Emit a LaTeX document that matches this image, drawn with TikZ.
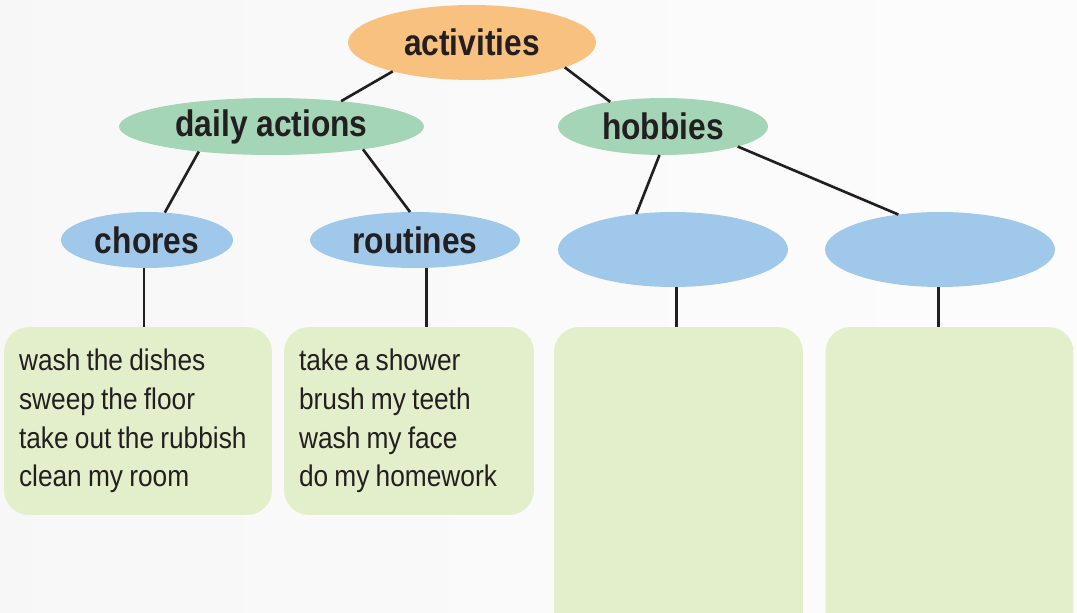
\documentclass[tikz,border=0pt]{standalone}
\usepackage{fontspec}
\setmainfont{Liberation Sans}[FakeStretch=0.86]
\newfontfamily\listfont{Liberation Sans}[FakeStretch=0.88, WordSpace=0.85]
\usepackage{tikz}
\usetikzlibrary{shapes.geometric}

\definecolor{actorange}{HTML}{F8C17F}
\definecolor{catgreen}{HTML}{A3D5B6}
\definecolor{subblue}{HTML}{A0C8EA}
\definecolor{listgreen}{HTML}{E3EFCA}
\definecolor{inkdark}{HTML}{231F20}

\tikzset{
  bubble/.style={ellipse, inner sep=0pt, outer sep=0pt, text=inkdark,
    font=\fontsize{21}{24}\selectfont\bfseries},
  listbox/.style={rectangle, rounded corners=0.5cm, fill=listgreen,
    inner xsep=0.3cm, inner ysep=0pt, outer sep=0pt, align=flush left, text=inkdark,
    font=\listfont\fontsize{17}{22}\selectfont},
  link/.style={draw=inkdark, line width=1.5pt}
}

\begin{document}
\begin{tikzpicture}[x=0.02cm, y=-0.02cm]
            \useasboundingbox (0, 0) rectangle (1077, 612);
            \clip (0, 0) rectangle (1077, 612);
            \shade[left color=gray!6, right color=gray!2] (0, 0) rectangle (1077, 612);

            \node[bubble, fill=actorange, minimum width=4.96cm, minimum height=1.5cm] (act) at (472, 42.5) {activities};

            \node[bubble, fill=catgreen, minimum width=6.1cm, minimum height=1.14cm] (daily) at (271.5, 126.5) {daily actions};
            \node[bubble, fill=catgreen, minimum width=4.2cm, minimum height=1.14cm] (hob) at (663, 126.5) {hobbies};

            \node[bubble, fill=subblue, minimum width=3.44cm, minimum height=1.12cm] (chores) at (147, 240) {chores};
            \node[bubble, fill=subblue, minimum width=4.2cm, minimum height=1.12cm] (rout) at (415, 240) {routines};
            \node[bubble, fill=subblue, minimum width=4.6cm, minimum height=1.5cm] (hobA) at (673, 249.5) {};
            \node[bubble, fill=subblue, minimum width=4.6cm, minimum height=1.5cm] (hobB) at (940, 249.5) {};

            \node[listbox, text width=4.76cm, minimum height=3.76cm] (choreList) at (138, 421) {wash the dishes\\ sweep the floor\\ take out the rubbish\\ clean my room};
            \node[listbox, text width=4.4cm, minimum height=3.76cm] (routList) at (409, 421) {take a shower\\ brush my teeth\\ wash my face\\ do my homework};
            \node[listbox, minimum width=4.98cm, minimum height=6.5cm] (hobAList) at (678.5, 489.5) {};
            \node[listbox, minimum width=4.96cm, minimum height=6.5cm] (hobBList) at (949.5, 489.5) {};

            % upper levels
            \draw[link] (act.200) -- (daily.20);
            \draw[link] (act.345) -- (hob.155);
            \draw[link] (daily.199) -- (chores.57);
            \draw[link] (daily.346) -- (rout.100);
            \draw[link] (hob.263) -- (hobA.136);
            \draw[link] (hob.-15) -- (hobB.140);

            % down to the lists
            \draw[link] (chores.-96) -- (chores.-96 |- choreList.north);
            \draw[link] (rout.-68) -- (rout.-68 |- routList.north);
            \draw[link] (hobA.-85) -- (hobA.-85 |- hobAList.north);
            \draw[link] (hobB.-92) -- (hobB.-92 |- hobBList.north);
        \end{tikzpicture}
\end{document}
